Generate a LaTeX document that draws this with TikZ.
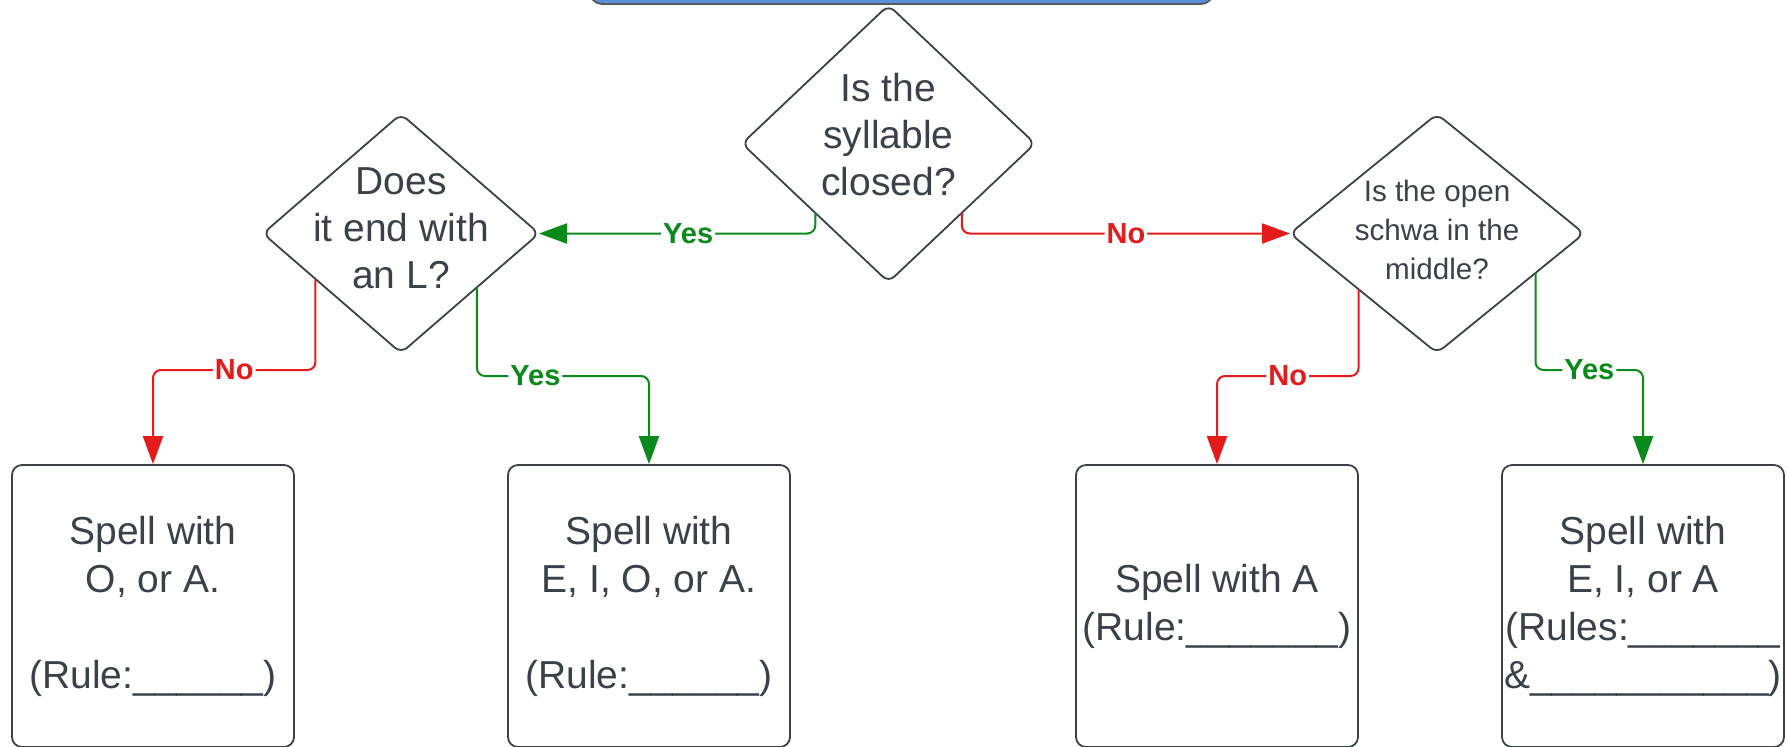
\documentclass[tikz,border=0pt]{standalone}
\usepackage{fontspec}
\setmainfont{Liberation Sans}
\usetikzlibrary{shapes.geometric,arrows.meta,calc}
\definecolor{inkgray}{HTML}{3B414B}
\definecolor{yesgreen}{HTML}{0A8A1A}
\definecolor{nored}{HTML}{E31B1B}
\definecolor{barblue}{HTML}{5B8FDB}

\begin{document}
\begin{tikzpicture}[x=0.5pt, y=-0.5pt, line join=round,
    decision/.style={diamond, draw=inkgray, line width=0.9pt, rounded corners=4pt, inner sep=0pt, outer sep=0pt},
    qtext/.style={text=inkgray, align=center, font=\fontsize{19.5}{23.5}\selectfont},
    spellbox/.style={rectangle, draw=inkgray, line width=0.9pt, rounded corners=5pt, minimum width=141pt, minimum height=141pt, inner sep=0pt, text=inkgray, align=center, font=\fontsize{19.5}{24}\selectfont},
    yesline/.style={yesgreen, line width=1pt, rounded corners=4pt, -{Triangle[length=14pt,width=10pt]}},
    noline/.style={nored, line width=1pt, rounded corners=4pt, -{Triangle[length=14pt,width=10pt]}},
    tag/.style={fill=white, inner sep=1pt, font=\fontsize{14.5}{16}\selectfont\bfseries}]
  \useasboundingbox (0,0) rectangle (1787,746);

  % bar cut off at the top
  \node[draw=gray!70!black, fill=barblue, rounded corners=6pt, line width=0.9pt, minimum width=311.5pt, minimum height=24pt] (topbar) at (901.5,-20) {};

  % questions
  \node[decision, minimum width=146.5pt, minimum height=138.5pt,
        label={[qtext, yshift=4.5pt]center:{Is the\\syllable\\closed?}}] (closed) at (888.5,143.6) {};
  \node[decision, minimum width=138pt, minimum height=119.5pt,
        label={[qtext, yshift=2.5pt]center:{Does\\it end with\\an L?}}] (endl) at (401,233.5) {};
  \node[decision, minimum width=147pt, minimum height=119.5pt,
        label={[qtext, font=\fontsize{14.8}{19.5}\selectfont, yshift=2pt]center:{Is the open\\schwa in the\\middle?}}] (schwa) at (1437,233.5) {};

  % answers
  \node[spellbox] (oabox) at (153,606) {Spell with\\O, or A.\\[24pt](Rule:\_\_\_\_\_\_)};
  \node[spellbox] (eioabox) at (649,606) {Spell with\\E, I, O, or A.\\[24pt](Rule:\_\_\_\_\_\_)};
  \node[spellbox] (abox) at (1217,606) {Spell with A\\(Rule:\_\_\_\_\_\_\_)};
  \node[spellbox] (eiabox) at (1643,606) {Spell with\\E, I, or A\\(Rules:\_\_\_\_\_\_\_\\\&\_\_\_\_\_\_\_\_\_\_\_)};

  % connectors
  \draw[yesline] (closed.south west) |- (endl.east) node[tag, pos=0.73] {Yes};
  \draw[noline] (closed.south east) |- (schwa.west) node[tag, pos=0.75] {No};

  \coordinate (endlno) at ($(endl.west)!0.38!(endl.south)$);
  \draw[noline] (endlno) -- (endlno |- 0,370) -| (oabox.north) node[tag, pos=0.25] {No};
  \coordinate (endlyes) at ($(endl.east)!0.45!(endl.south)$);
  \draw[yesline] (endlyes) -- (endlyes |- 0,376) -| (eioabox.north) node[tag, pos=0.17] {Yes};

  \coordinate (schwano) at ($(schwa.west)!0.466!(schwa.south)$);
  \draw[noline] (schwano) -- (schwano |- 0,376) -| (abox.north) node[tag, pos=0.25] {No};
  \coordinate (schwayes) at ($(schwa.east)!0.33!(schwa.south)$);
  \draw[yesline] (schwayes) -- (schwayes |- 0,370) -| (eiabox.north) node[tag, pos=0.25] {Yes};
\end{tikzpicture}
\end{document}
